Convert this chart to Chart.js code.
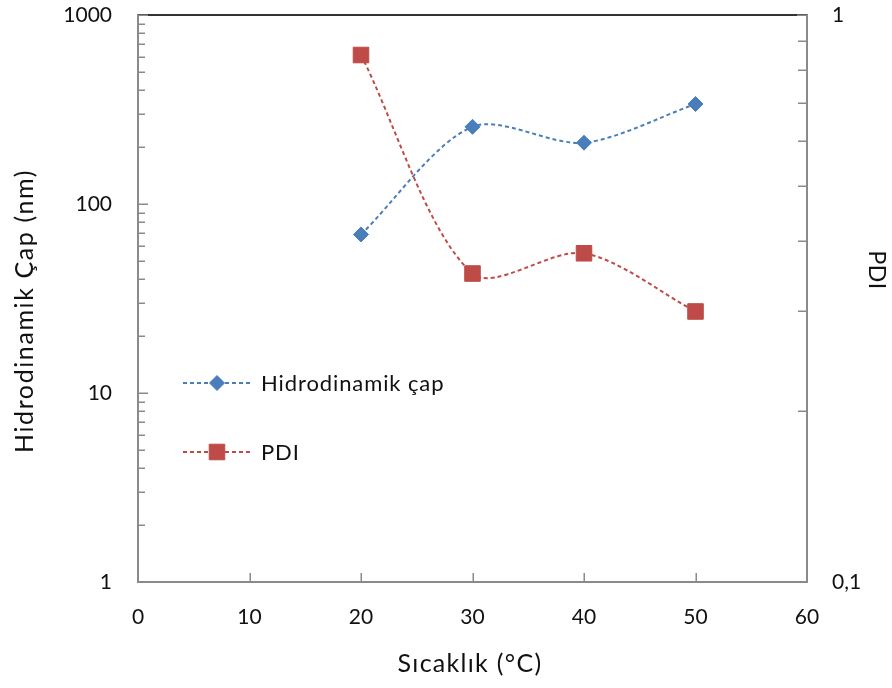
<!DOCTYPE html>
<html><head><meta charset="utf-8">
<script src="https://cdn.jsdelivr.net/npm/chart.js@4.4.1/dist/chart.umd.min.js"></script>
<style>html,body{margin:0;padding:0;background:#fff}#wrap{width:892px;height:688px;position:relative}canvas{display:block}</style>
</head><body><div id="wrap"><canvas id="c" width="892" height="688"></canvas></div>
<script>
// ---- data ----
const temperatures = [20, 30, 40, 50];
const hydroDiameter = [69, 256, 211, 338];
const pdiValues = [0.85, 0.35, 0.38, 0.30];
const xTickValues = [0, 10, 20, 30, 40, 50, 60];
const xTickLabels = ["0", "10", "20", "30", "40", "50", "60"];
const leftTickValues = [1, 10, 100, 1000];
const leftTickLabels = ["1", "10", "100", "1000"];
const leftMinorValues = [2,3,4,5,6,7,8,9,20,30,40,50,60,70,80,90,200,300,400,500,600,700,800,900];
const rightTickValues = [0.1, 1];
const rightTickLabels = ["0,1", "1"];
const rightMinorValues = [0.2,0.3,0.4,0.5,0.6,0.7,0.8,0.9];
const seriesNames = ["Hidrodinamik çap", "PDI"];
const xTitle = "Sıcaklık (°C)";
const yTitle = "Hidrodinamik Çap (nm)";
const y1Title = "PDI";

const FONT = "Lato";
const TICK_FS = 21;
const LEG_FS = 22;
const TITLE_FS = 25;
const Y1_FS = 23;
const TXT = "#111";
const AXIS = "#8a8a8a";
const BLUE = "#4A7EBB";
const RED = "#BE4B48";

const toPts = (xs, ys) => xs.map((x, i) => ({x: x, y: ys[i]}));

const innerTicks = {
  id: 'innerTicks',
  beforeDatasetsDraw(chart) {
    const {ctx, chartArea: a, scales} = chart;
    ctx.save();
    ctx.strokeStyle = '#333';
    ctx.lineWidth = 2;
    ctx.beginPath(); ctx.moveTo(a.left, a.top); ctx.lineTo(a.right, a.top); ctx.stroke();
    ctx.strokeStyle = AXIS;
    ctx.lineWidth = 1.5;
    const h = (x0, x1, y) => { ctx.beginPath(); ctx.moveTo(x0, y); ctx.lineTo(x1, y); ctx.stroke(); };
    const v = (x, y0, y1) => { ctx.beginPath(); ctx.moveTo(x, y0); ctx.lineTo(x, y1); ctx.stroke(); };
    const yl = scales.y, yr = scales.y1, sx = scales.x;
    leftMinorValues.forEach(t => h(a.left, a.left + 7, Math.round(yl.getPixelForValue(t)) + 0.25));
    leftTickValues.forEach(t => h(a.left, a.left + 10, Math.round(yl.getPixelForValue(t)) + 0.25));
    rightMinorValues.forEach(t => h(a.right - 9, a.right, Math.round(yr.getPixelForValue(t)) + 0.25));
    rightTickValues.forEach(t => h(a.right - 10, a.right, Math.round(yr.getPixelForValue(t)) + 0.25));
    xTickValues.forEach(t => v(Math.round(sx.getPixelForValue(t)) + 0.25, a.bottom - 9, a.bottom));
    ctx.restore();
  }
};

function drawMarker(ctx, style, x, y, r, color) {
  ctx.save();
  ctx.fillStyle = color; ctx.strokeStyle = color; ctx.lineWidth = 1; ctx.setLineDash([]);
  ctx.beginPath();
  if (style === 'rectRot') {
    ctx.moveTo(x - r, y); ctx.lineTo(x, y - r); ctx.lineTo(x + r, y); ctx.lineTo(x, y + r);
  } else {
    const s = Math.SQRT1_2 * r;
    ctx.rect(x - s, y - s, 2 * s, 2 * s);
  }
  ctx.closePath(); ctx.fill(); ctx.stroke();
  ctx.restore();
}

function spaced(ctx, px) { if ('letterSpacing' in ctx) ctx.letterSpacing = px + 'px'; }

const legendAndTitles = {
  id: 'legendAndTitles',
  afterDraw(chart) {
    const {ctx} = chart;
    ctx.save();
    ctx.fillStyle = TXT;
    // legend
    ctx.font = LEG_FS + "px " + FONT;
    spaced(ctx, 0.9);
    const rows = [383, 452];
    chart.data.datasets.forEach((ds, i) => {
      const y = rows[i];
      ctx.save();
      ctx.strokeStyle = ds.borderColor; ctx.lineWidth = 2; ctx.setLineDash(ds.borderDash);
      ctx.beginPath(); ctx.moveTo(183, y); ctx.lineTo(251, y); ctx.stroke();
      ctx.restore();
      drawMarker(ctx, ds.pointStyle, 217, y, ds.pointRadius, ds.pointBackgroundColor);
      ctx.fillStyle = TXT; ctx.textAlign = 'left'; ctx.textBaseline = 'middle';
      ctx.fillText(ds.label, 261, y + 1);
    });
    // titles
    ctx.textAlign = 'center'; ctx.textBaseline = 'middle';
    ctx.font = TITLE_FS + "px " + FONT;
    spaced(ctx, 1.3);
    ctx.fillText(xTitle, 470, 664);
    spaced(ctx, 1.6);
    ctx.save(); ctx.translate(25, 311); ctx.rotate(-Math.PI / 2); ctx.fillText(yTitle, 0, 0); ctx.restore();
    ctx.font = Y1_FS + "px " + FONT;
    spaced(ctx, 0.5);
    ctx.save(); ctx.translate(876, 270); ctx.rotate(Math.PI / 2); ctx.fillText(y1Title, 0, 0); ctx.restore();
    ctx.restore();
  }
};

const zeroPadV = s => { s.paddingTop = 0; s.paddingBottom = 0; };
const zeroPadH = s => { s.paddingLeft = 0; s.paddingRight = 0; };

new Chart(document.getElementById('c'), {
  type: 'line',
  data: {
    datasets: [
      {
        label: seriesNames[0], data: toPts(temperatures, hydroDiameter), yAxisID: 'y',
        borderColor: BLUE, backgroundColor: BLUE, borderWidth: 2, borderDash: [4, 3],
        pointStyle: 'rectRot', pointRadius: 7.5, pointBackgroundColor: BLUE, pointBorderColor: BLUE, pointBorderWidth: 1,
        tension: 0.3, fill: false
      },
      {
        label: seriesNames[1], data: toPts(temperatures, pdiValues), yAxisID: 'y1',
        borderColor: RED, backgroundColor: RED, borderWidth: 2, borderDash: [4, 3],
        pointStyle: 'rect', pointRadius: 11, pointBackgroundColor: RED, pointBorderColor: RED, pointBorderWidth: 1,
        tension: 0.3, fill: false
      }
    ]
  },
  options: {
    responsive: false, animation: false, devicePixelRatio: 1,
    layout: {padding: {top: 15, left: 0, right: 0, bottom: 0}},
    plugins: {legend: {display: false}, tooltip: {enabled: false}},
    scales: {
      x: {
        type: 'linear', min: 0, max: 60,
        afterBuildTicks: s => { s.ticks = xTickValues.map(v => ({value: v})); },
        afterFit: s => { s.height = 106; zeroPadH(s); },
        grid: {display: false, drawTicks: false}, border: {display: true, color: AXIS, width: 2},
        ticks: {autoSkip: false, maxRotation: 0, padding: 23, color: TXT, font: {family: FONT, size: TICK_FS},
          callback: (v, i) => xTickLabels[i]}
      },
      y: {
        type: 'logarithmic', position: 'left', min: 1, max: 1000,
        afterBuildTicks: s => { s.ticks = leftTickValues.map(v => ({value: v})); },
        afterFit: s => { s.width = 138; zeroPadV(s); },
        grid: {display: false, drawTicks: false}, border: {display: true, color: AXIS, width: 2},
        ticks: {autoSkip: false, padding: 26, color: TXT, font: {family: FONT, size: TICK_FS},
          callback: (v, i) => leftTickLabels[i]}
      },
      y1: {
        type: 'logarithmic', position: 'right', min: 0.1, max: 1,
        afterBuildTicks: s => { s.ticks = rightTickValues.map(v => ({value: v})); },
        afterFit: s => { s.width = 85; zeroPadV(s); },
        grid: {display: false, drawTicks: false}, border: {display: true, color: AXIS, width: 2},
        ticks: {autoSkip: false, padding: 25, color: TXT, font: {family: FONT, size: TICK_FS},
          callback: (v, i) => rightTickLabels[i]}
      }
    }
  },
  plugins: [innerTicks, legendAndTitles]
});
</script>
</body></html>
